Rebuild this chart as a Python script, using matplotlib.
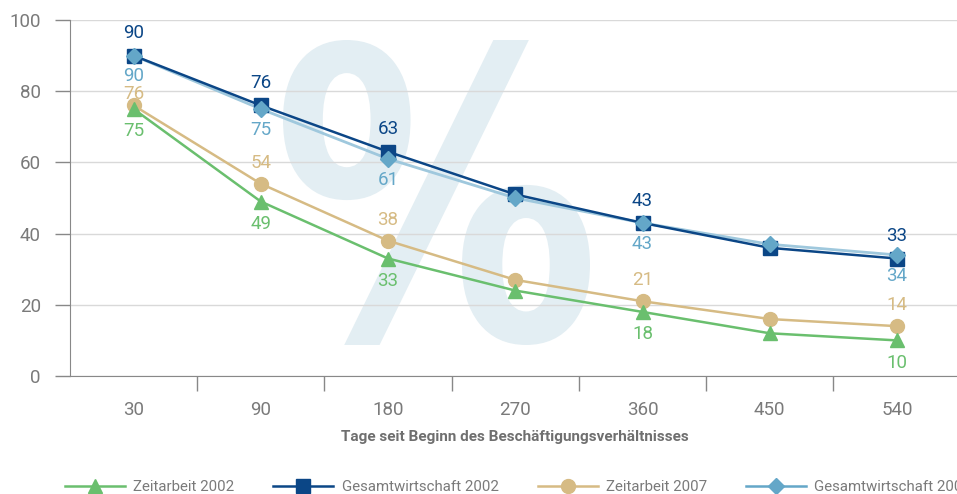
import matplotlib
matplotlib.use('agg')
import matplotlib.pyplot as plt
from matplotlib.textpath import TextPath
from matplotlib.patches import PathPatch
from matplotlib.font_manager import FontProperties
from matplotlib.lines import Line2D
import matplotlib.transforms as mtransforms

# Data
days = ['30', '90', '180', '270', '360', '450', '540']
zeit_2002 = [75, 49, 33, 24, 18, 12, 10]
gesamt_2002 = [90, 76, 63, 51, 43, 36, 33]
zeit_2007 = [76, 54, 38, 27, 21, 16, 14]
gesamt_2007 = [90, 75, 61, 50, 43, 37, 34]
labelled = [0, 1, 2, 4, 6]   # points that carry a value label
yticks = [0, 20, 40, 60, 80, 100]

GREEN = '#6abf6e'
NAVY = '#0b4686'
TAN = '#d6bb84'
LBLUE_LINE = '#9fc8dd'
LBLUE = '#64a7c8'
GREY = '#7a7a7a'

plt.rcParams['font.family'] = ['Roboto', 'DejaVu Sans']

fig = plt.figure(figsize=(9.57, 4.94), dpi=100)
ax = fig.add_axes([70 / 957, 118 / 494, 890.6 / 957, 356 / 494])

# big watermark "%"
tp = TextPath((0, 0), '%', prop=FontProperties(family='DejaVu Sans', weight='bold'))
ext = tp.get_extents()
box = (283 / 957, 149 / 494, 590 / 957, 454 / 494)
tr = (mtransforms.Affine2D()
      .translate(-ext.x0, -ext.y0)
      .scale((box[2] - box[0]) / ext.width, (box[3] - box[1]) / ext.height)
      .translate(box[0], box[1]) + fig.transFigure)
ax.add_patch(PathPatch(tp, transform=tr, facecolor='#e3eef3', edgecolor='none', zorder=0.5))

x = range(len(days))
ax.plot(x, zeit_2002, color=GREEN, lw=1.8, zorder=2)
ax.plot(x, zeit_2007, color=TAN, lw=1.8, zorder=2)
ax.plot(x, gesamt_2007, color=LBLUE_LINE, lw=2.0, zorder=2)
ax.plot(x, gesamt_2002, color=NAVY, lw=1.8, zorder=2.1)

ax.plot(x, zeit_2007, 'o', color=TAN, ms=10, zorder=3)
ax.plot(x, zeit_2002, '^', color=GREEN, ms=10, zorder=3.1)
ax.plot(x, gesamt_2002, 's', color=NAVY, ms=9.5, zorder=3)
ax.plot(x, gesamt_2007, 'D', color=LBLUE, ms=8.5, zorder=3.1)

for i in labelled:
    ax.annotate(str(gesamt_2002[i]), (i, gesamt_2002[i]), xytext=(0, 16), textcoords='offset points',
                ha='center', va='center', color=NAVY, fontsize=13.5)
    ax.annotate(str(gesamt_2007[i]), (i, gesamt_2007[i]), xytext=(0, -15), textcoords='offset points',
                ha='center', va='center', color=LBLUE, fontsize=13.5)
    dy = 8 if i == 0 else 15
    ax.annotate(str(zeit_2007[i]), (i, zeit_2007[i]), xytext=(0, dy), textcoords='offset points',
                ha='center', va='center', color=TAN, fontsize=13.5)
    ax.annotate(str(zeit_2002[i]), (i, zeit_2002[i]), xytext=(0, -16), textcoords='offset points',
                ha='center', va='center', color=GREEN, fontsize=13.5)

ax.set_xlim(-0.5, 6.5)
ax.set_ylim(0, 100)
ax.set_yticks(yticks)
ax.yaxis.grid(True, color='#d9d9d9', lw=1)
ax.set_axisbelow(True)
ax.set_xticks(list(x))
ax.set_xticklabels(days)
ax.set_xticks([i + 0.5 for i in range(6)], minor=True)
ax.tick_params(axis='x', which='major', length=0, pad=18, labelsize=13.5, labelcolor=GREY)
ax.tick_params(axis='x', which='minor', length=11, width=1, color='#888888')
ax.tick_params(axis='y', length=11, width=1, color='#888888', pad=10, labelsize=13.5, labelcolor=GREY)
for s in ['top', 'right']:
    ax.spines[s].set_visible(False)
for s in ['left', 'bottom']:
    ax.spines[s].set_color('#888888')
ax.set_xlabel('Tage seit Beginn des Beschäftigungsverhältnisses', fontsize=11,
              fontweight='bold', color='#6f6f6f', labelpad=8)

handles = [
    Line2D([], [], color=GREEN, lw=1.8, marker='^', ms=10),
    Line2D([], [], color=NAVY, lw=1.8, marker='s', ms=9.5),
    Line2D([], [], color=TAN, lw=1.8, marker='o', ms=10),
    Line2D([], [], color=LBLUE, lw=1.8, marker='D', ms=8.5),
]
names = ['Zeitarbeit 2002', 'Gesamtwirtschaft 2002', 'Zeitarbeit 2007', 'Gesamtwirtschaft 2007']
leg = fig.legend(handles, names, loc='center left', bbox_to_anchor=(65 / 957, 7 / 494), ncol=4,
                 frameon=False, fontsize=10.8, handlelength=4.0, handletextpad=0.55,
                 columnspacing=2.6, borderpad=0, borderaxespad=0)
for t in leg.get_texts():
    t.set_color(GREY)

fig.savefig('out.png', dpi=100)
